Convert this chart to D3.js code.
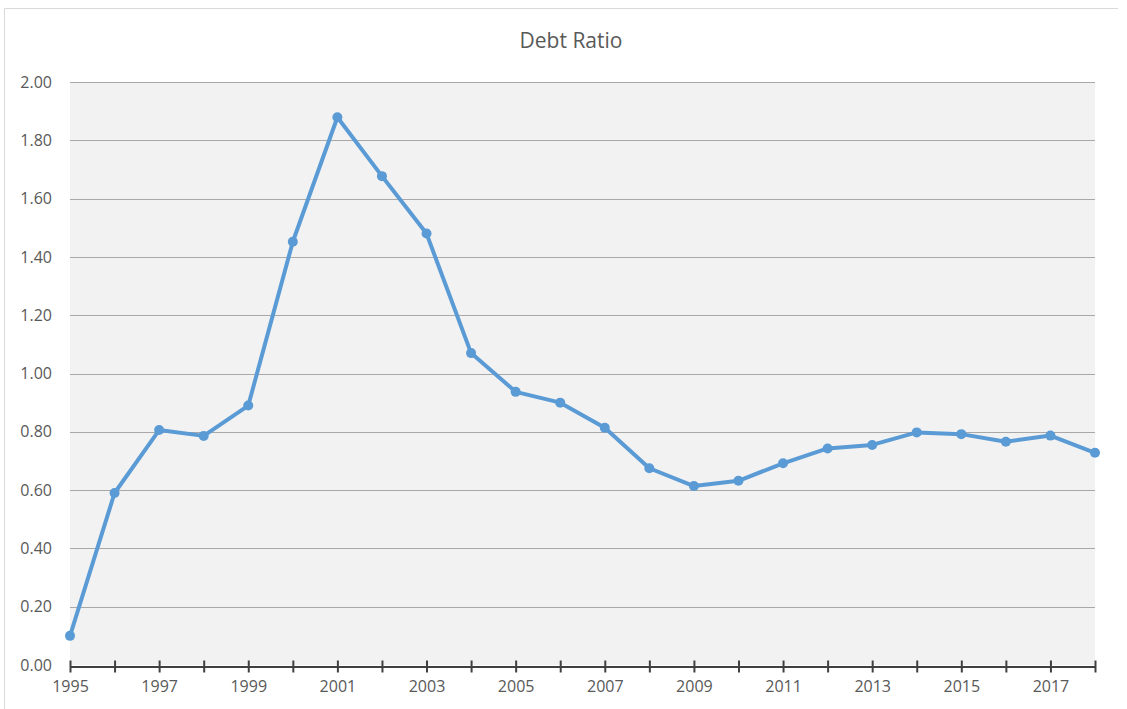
<!DOCTYPE html>
<html>
<head>
<meta charset="utf-8">
<script src="https://cdn.jsdelivr.net/npm/d3@7"></script>
<style>
  html, body { margin: 0; padding: 0; background: #fff; }
  svg { display: block; font-family: "Open Sans", "Noto Sans", sans-serif; }
</style>
</head>
<body>
<svg id="chart" width="1127" height="709"></svg>
<script>
// Debt ratio by year
const years = [1995, 1996, 1997, 1998, 1999, 2000, 2001, 2002, 2003, 2004, 2005, 2006,
               2007, 2008, 2009, 2010, 2011, 2012, 2013, 2014, 2015, 2016, 2017, 2018];
const debtRatio = [0.10, 0.59, 0.806, 0.786, 0.89, 1.452, 1.879, 1.677, 1.48, 1.07, 0.937, 0.90,
                   0.814, 0.675, 0.614, 0.632, 0.692, 0.743, 0.755, 0.798, 0.792, 0.766, 0.787, 0.728];
const yTicks = [0, 0.2, 0.4, 0.6, 0.8, 1.0, 1.2, 1.4, 1.6, 1.8, 2.0];
const yearLabels = [1995, 1997, 1999, 2001, 2003, 2005, 2007, 2009, 2011, 2013, 2015, 2017];
const chartTitle = "Debt Ratio";

const svg = d3.select("#chart");
const plot = { left: 70, right: 1095, top: 82, bottom: 665 };

// chart frame
svg.append("path")
  .attr("d", "M4.5,709 V8.5 H1118")
  .attr("fill", "none")
  .attr("stroke", "#d9d9d9")
  .attr("stroke-width", 1);

const x = d3.scaleLinear().domain([1995, 2018]).range([plot.left, plot.right]);
const y = d3.scaleLinear().domain([0, 2]).range([plot.bottom, plot.top]);

// plot area
svg.append("rect")
  .attr("x", plot.left).attr("y", plot.top)
  .attr("width", plot.right - plot.left).attr("height", plot.bottom - plot.top)
  .attr("fill", "#f2f2f2");

// horizontal gridlines
svg.append("g")
  .selectAll("line")
  .data(yTicks.filter(d => d > 0))
  .join("line")
  .attr("x1", plot.left).attr("x2", plot.right)
  .attr("y1", d => Math.round(y(d)) + 0.5)
  .attr("y2", d => Math.round(y(d)) + 0.5)
  .attr("stroke", "#a8a8a8")
  .attr("stroke-width", 1);

// y axis labels
const yAxis = d3.axisLeft(y).tickValues(yTicks).tickFormat(d3.format(".2f")).tickSize(0).tickPadding(18);
const gy = svg.append("g").attr("transform", `translate(${plot.left},0)`).call(yAxis);
gy.select(".domain").remove();
gy.selectAll("text")
  .attr("fill", "#595959")
  .attr("font-size", 16)
  .attr("font-family", "\"Open Sans\", sans-serif");

// x axis
const xAxis = d3.axisBottom(x)
  .tickValues(years)
  .tickFormat(d => yearLabels.includes(d) ? d : "")
  .tickSize(0)
  .tickPadding(14);
const gx = svg.append("g").attr("transform", `translate(0,${plot.bottom + 1.5})`).call(xAxis);
gx.select(".domain")
  .attr("stroke", "#404040")
  .attr("stroke-width", 2);
gx.selectAll(".tick line")
  .attr("y1", -6).attr("y2", 6)
  .attr("stroke", "#404040")
  .attr("stroke-width", 2);
gx.selectAll("text")
  .attr("fill", "#595959")
  .attr("font-size", 16)
  .attr("font-family", "\"Open Sans\", sans-serif");

// data line
const pts = years.map((yr, i) => [yr, debtRatio[i]]);
svg.append("path")
  .datum(pts)
  .attr("d", d3.line().x(d => x(d[0])).y(d => y(d[1])))
  .attr("fill", "none")
  .attr("stroke", "#5b9bd5")
  .attr("stroke-width", 4)
  .attr("stroke-linejoin", "round");

svg.append("g")
  .selectAll("circle")
  .data(pts)
  .join("circle")
  .attr("cx", d => x(d[0]))
  .attr("cy", d => y(d[1]))
  .attr("r", 5)
  .attr("fill", "#5b9bd5");

// title
svg.append("text")
  .attr("x", 571).attr("y", 48)
  .attr("text-anchor", "middle")
  .attr("fill", "#595959")
  .attr("font-size", 21)
  .text(chartTitle);
</script>
</body>
</html>
